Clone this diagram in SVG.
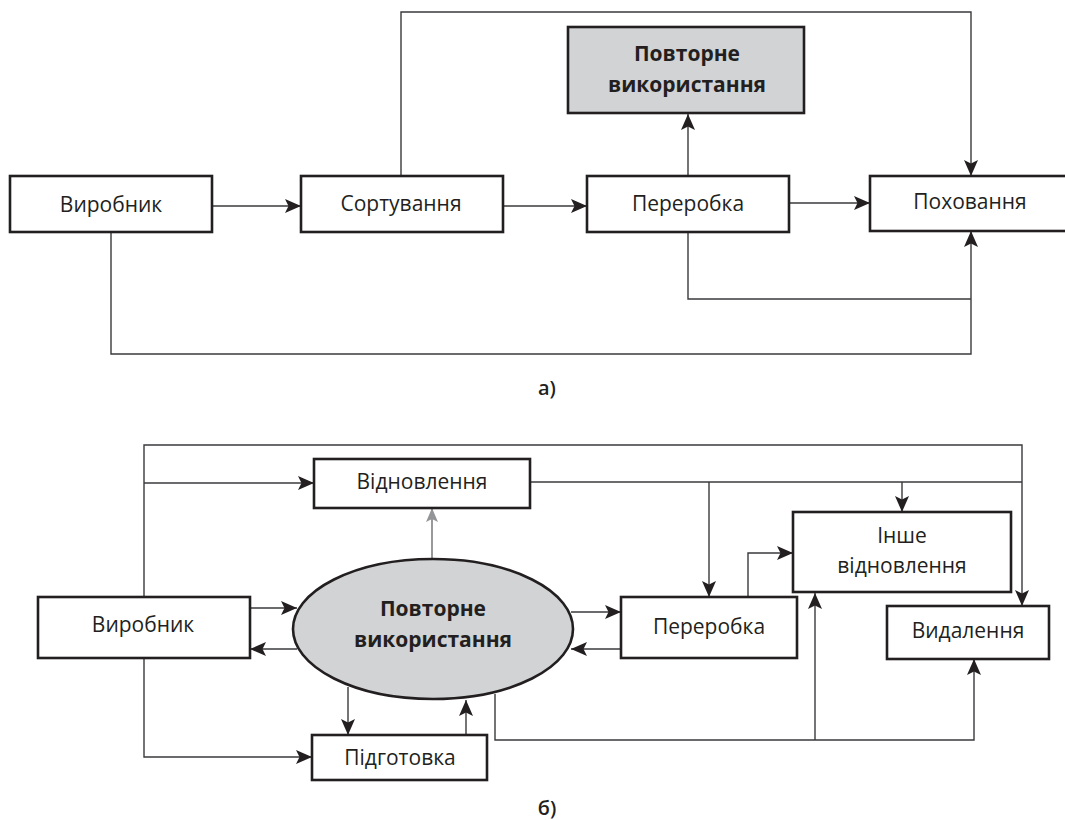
<svg xmlns="http://www.w3.org/2000/svg" width="1065" height="820" viewBox="0 0 1065 820">
<style>
.box{fill:#fff;stroke:#231f20;stroke-width:2.6}
.gbox{fill:#d1d3d4;stroke:#231f20;stroke-width:2.6}
.ln{fill:none;stroke:#3a3a3c;stroke-width:1.4}
.t{font-family:"Open Sans","Noto Sans","DejaVu Sans",sans-serif;font-size:21px;fill:#231f20;text-anchor:middle}
.b{font-weight:bold}
.lab{font-family:"Open Sans","Noto Sans",sans-serif;font-size:20px;font-weight:600;fill:#231f20;text-anchor:middle}
</style>
<defs>
<marker id="ah" markerUnits="userSpaceOnUse" markerWidth="16" markerHeight="14" refX="16" refY="7" orient="auto">
<path d="M0,0 L16,7 L0,14 L3.5,7 Z" fill="#231f20"/>
</marker>
<marker id="ahg" markerUnits="userSpaceOnUse" markerWidth="14" markerHeight="12" refX="14" refY="6" orient="auto">
<path d="M0,0 L14,6 L0,12 L3,6 Z" fill="#939598"/>
</marker>
</defs>
<rect width="1065" height="820" fill="#fff"/>

<g id="connectors-a">
<line class="ln" x1="212" y1="206" x2="301" y2="206" marker-end="url(#ah)"/>
<line class="ln" x1="503" y1="206" x2="587" y2="206" marker-end="url(#ah)"/>
<line class="ln" x1="789" y1="203" x2="870" y2="203" marker-end="url(#ah)"/>
<line class="ln" x1="688" y1="176" x2="688" y2="114" marker-end="url(#ah)"/>
<polyline class="ln" points="401,176 401,12 971,12 971,176" marker-end="url(#ah)"/>
<polyline class="ln" points="688,231 688,299 971,299"/>
<polyline class="ln" points="111,232 111,354 971,354 971,231" marker-end="url(#ah)"/>
</g>

<g id="a-vyrobnyk"><rect class="box" x="10" y="176" width="202" height="56"/><text class="t" x="111" y="212">Виробник</text></g>
<g id="a-sortuvannia"><rect class="box" x="301" y="176" width="202" height="56"/><text class="t" x="401" y="211">Сортування</text></g>
<g id="a-pererobka"><rect class="box" x="587" y="176" width="202" height="56"/><text class="t" x="688" y="211">Переробка</text></g>
<g id="a-pokhovannia"><rect class="box" x="870" y="176" width="200" height="55"/><text class="t" x="970" y="209">Поховання</text></g>
<g id="a-povtorne"><rect class="gbox" x="568" y="27" width="236" height="86"/><text class="t b" x="687" y="61">Повторне</text><text class="t b" x="687" y="92">використання</text></g>
<text class="lab" x="547" y="395">а)</text>

<g id="connectors-b">
<polyline class="ln" points="144,597 144,445 1022,445 1022,606" marker-end="url(#ah)"/>
<line class="ln" x1="144" y1="483" x2="314" y2="483" marker-end="url(#ah)"/>
<polyline class="ln" points="530,482 1022,482"/>
<line class="ln" x1="709" y1="482" x2="709" y2="597" marker-end="url(#ah)"/>
<line class="ln" x1="902" y1="482" x2="902" y2="512" marker-end="url(#ah)"/>
<line x1="432" y1="559" x2="432" y2="508" fill="none" stroke="#6d6e71" stroke-width="1.4" marker-end="url(#ahg)"/>
<line class="ln" x1="250" y1="608" x2="297" y2="608" marker-end="url(#ah)"/>
<line class="ln" x1="297" y1="649" x2="250" y2="649" marker-end="url(#ah)"/>
<line class="ln" x1="571" y1="612" x2="621" y2="612" marker-end="url(#ah)"/>
<line class="ln" x1="621" y1="649" x2="571" y2="649" marker-end="url(#ah)"/>
<polyline class="ln" points="144,658 144,757 312,757" marker-end="url(#ah)"/>
<line class="ln" x1="348" y1="687" x2="348" y2="735" marker-end="url(#ah)"/>
<line class="ln" x1="466" y1="735" x2="466" y2="700" marker-end="url(#ah)"/>
<polyline class="ln" points="748,597 748,553 793,553" marker-end="url(#ah)"/>
<polyline class="ln" points="495,694 495,740 974,740 974,659" marker-end="url(#ah)"/>
<line class="ln" x1="815" y1="740" x2="815" y2="593" marker-end="url(#ah)"/>
</g>

<g id="b-vidnovlennia"><rect class="box" x="314" y="459" width="216" height="49"/><text class="t" x="422" y="489">Відновлення</text></g>
<g id="b-povtorne"><ellipse cx="433" cy="629" rx="140" ry="70" fill="#d1d3d4" stroke="#231f20" stroke-width="2.6"/><text class="t b" x="433" y="616">Повторне</text><text class="t b" x="433" y="647">використання</text></g>
<g id="b-vyrobnyk"><rect class="box" x="38" y="597" width="212" height="61"/><text class="t" x="143" y="632">Виробник</text></g>
<g id="b-pererobka"><rect class="box" x="621" y="597" width="176" height="61"/><text class="t" x="709" y="634">Переробка</text></g>
<g id="b-inshe"><rect class="box" x="793" y="512" width="218" height="80"/><text class="t" x="902" y="543">Інше</text><text class="t" x="902" y="573">відновлення</text></g>
<g id="b-vydalennia"><rect class="box" x="887" y="606" width="162" height="53"/><text class="t" x="968" y="638">Видалення</text></g>
<g id="b-pidhotovka"><rect class="box" x="312" y="735" width="175" height="45"/><text class="t" x="400" y="765">Підготовка</text></g>
<text class="lab" x="547" y="815">б)</text>
</svg>
